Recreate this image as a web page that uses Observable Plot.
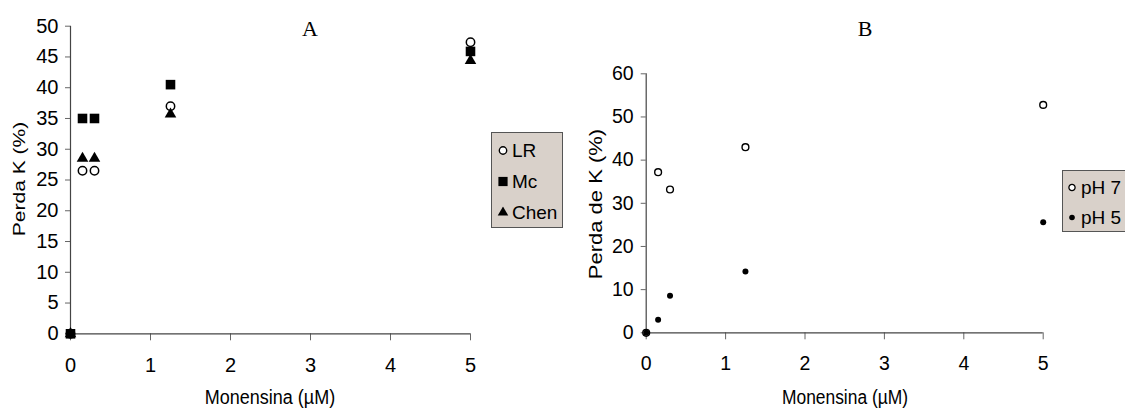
<!DOCTYPE html>
<html>
<head>
<meta charset="utf-8">
<script src="https://cdn.jsdelivr.net/npm/d3@7"></script>
<script src="https://cdn.jsdelivr.net/npm/@observablehq/plot@0.6"></script>
<style>
  html, body { margin: 0; padding: 0; background: white; }
  #wrap { position: relative; width: 1125px; height: 409px; overflow: hidden; font-family: "Liberation Sans", Arial, sans-serif; }
  #wrap > svg { position: absolute; top: 0; }
  #wrap svg text { fill: #000; }
  .ttl { position: absolute; white-space: nowrap; line-height: 1; color: #000; }
  .letter { position: absolute; font-family: "Liberation Serif", "Times New Roman", serif; font-size: 22px; line-height: 1; transform: translate(-50%, -50%); }
  .legend { position: absolute; background: #d9d1ca; border: 1px solid #555; box-sizing: border-box; }
  .legrow { position: absolute; display: flex; align-items: center; font-size: 19px; line-height: 1; white-space: nowrap; transform: translateY(-50%); color: #000; }
  .legrow svg { margin-right: 3px; }
</style>
</head>
<body>
<div id="wrap"></div>
<script>
// ---- Data ----
const monensinaA = [0, 0.15, 0.3, 1.25, 5];
const lrA   = [0, 26.5, 26.5, 37.0, 47.4];
const mcA   = [0, 35.0, 35.0, 40.5, 45.9];
const chenA = [0, 28.5, 28.5, 35.7, 44.4];
const seriesA = ["LR", "Mc", "Chen"];

const monensinaB = [0, 0.15, 0.3, 1.25, 5];
const ph7B = [0, 37.2, 33.2, 43.0, 52.8];
const ph5B = [0, 3.0, 8.6, 14.2, 25.6];
const seriesB = ["pH 7", "pH 5"];

const xTicks = [0, 1, 2, 3, 4, 5];
const yTicksA = [0, 5, 10, 15, 20, 25, 30, 35, 40, 45, 50];
const yTicksB = [0, 10, 20, 30, 40, 50, 60];

const toRows = (xs, ys) => xs.map((x, i) => ({x, y: ys[i]}));

const baseStyle = {fontFamily: "'Liberation Sans', Arial, sans-serif", fontSize: "20px", color: "black", background: "transparent", overflow: "visible"};
const axisColor = "#444";
const fmt = d3.format("d");

// ---- Panel A ----
const plotA = Plot.plot({
  width: 560, height: 409,
  marginLeft: 70, marginRight: 90, marginTop: 25.7, marginBottom: 75.7,
  x: {domain: [0, 5]},
  y: {domain: [0, 50]},
  style: baseStyle,
  marks: [
    Plot.axisY({ticks: yTicksA, tickFormat: fmt, tickSize: 5, tickPadding: 7, label: null, stroke: "#666", fill: "black"}),
    Plot.axisX({ticks: xTicks, tickFormat: fmt, tickSize: 7, tickPadding: 17, label: null, stroke: "#666", fill: "black"}),
    Plot.ruleX([0], {stroke: axisColor, strokeWidth: 1.2}),
    Plot.ruleY([0], {stroke: axisColor, strokeWidth: 1.2}),
    Plot.dot(toRows(monensinaA, lrA), {x: "x", y: "y", symbol: "circle", r: 4.2, fill: "white", stroke: "black", strokeWidth: 1.5}),
    Plot.dot(toRows(monensinaA, mcA), {x: "x", y: "y", symbol: "square", r: 5.4, fill: "black"}),
    Plot.dot(toRows(monensinaA, chenA), {x: "x", y: "y", symbol: "triangle", r: 4.3, fill: "black"})
  ]
});
plotA.style.left = "0px";

// ---- Panel B ----
const plotB = Plot.plot({
  width: 565, height: 409,
  marginLeft: 85.7, marginRight: 82.3, marginTop: 73.3, marginBottom: 76.7,
  x: {domain: [0, 5]},
  y: {domain: [0, 60]},
  style: {...baseStyle, fontSize: "19.5px"},
  marks: [
    Plot.axisY({ticks: yTicksB, tickFormat: fmt, tickSize: 5, tickPadding: 7.5, label: null, stroke: "#666", fill: "black"}),
    Plot.axisX({ticks: xTicks, tickFormat: fmt, tickSize: 7, tickPadding: 16, label: null, stroke: "#666", fill: "black"}),
    Plot.ruleX([0], {stroke: axisColor, strokeWidth: 1.2}),
    Plot.ruleY([0], {stroke: axisColor, strokeWidth: 1.2}),
    Plot.dot(toRows(monensinaB, ph7B), {x: "x", y: "y", symbol: "circle", r: 3.4, fill: "white", stroke: "black", strokeWidth: 1.4}),
    Plot.dot(toRows(monensinaB, ph5B), {x: "x", y: "y", symbol: "circle", r: 3, fill: "black"})
  ]
});
plotB.style.left = "560px";

const wrap = document.getElementById("wrap");
wrap.appendChild(plotA);
wrap.appendChild(plotB);

// ---- Titles ----
function addText(cls, text, left, top, css) {
  const d = document.createElement("div");
  d.className = cls;
  d.textContent = text;
  d.style.left = left + "px";
  d.style.top = top + "px";
  Object.assign(d.style, css || {});
  wrap.appendChild(d);
  return d;
}
addText("letter", "A", 310, 29);
addText("letter", "B", 865, 29);
addText("ttl", "Monensina (µM)", 270, 397, {fontSize: "20px", transform: "translate(-50%, -50%) scaleX(0.9)"});
addText("ttl", "Monensina (µM)", 845, 397, {fontSize: "20px", transform: "translate(-50%, -50%) scaleX(0.87)"});
addText("ttl", "Perda K (%)", 19, 179, {fontSize: "21px", transform: "translate(-50%, -50%) rotate(-90deg) scaleY(0.75)"});
addText("ttl", "Perda de K (%)", 595.5, 204, {fontSize: "22px", transform: "translate(-50%, -50%) rotate(-90deg) scaleY(0.82)"});

// ---- Legends ----
function symbolSvg(kind) {
  const ns = "http://www.w3.org/2000/svg";
  const s = document.createElementNS(ns, "svg");
  s.setAttribute("width", 12); s.setAttribute("height", 12);
  s.setAttribute("viewBox", "-6 -6 12 12");
  let el;
  if (kind === "openCircle") { el = document.createElementNS(ns, "circle"); el.setAttribute("r", 3.7); el.setAttribute("fill", "white"); el.setAttribute("stroke", "black"); el.setAttribute("stroke-width", 1.4); }
  else if (kind === "smallOpen") { el = document.createElementNS(ns, "circle"); el.setAttribute("r", 3.1); el.setAttribute("fill", "white"); el.setAttribute("stroke", "black"); el.setAttribute("stroke-width", 1.3); }
  else if (kind === "dot") { el = document.createElementNS(ns, "circle"); el.setAttribute("r", 2.8); el.setAttribute("fill", "black"); }
  else if (kind === "square") { el = document.createElementNS(ns, "rect"); el.setAttribute("x", -4.6); el.setAttribute("y", -4.6); el.setAttribute("width", 9.2); el.setAttribute("height", 9.2); el.setAttribute("fill", "black"); }
  else { el = document.createElementNS(ns, "path"); el.setAttribute("d", d3.symbol(d3.symbolTriangle, 48)()); el.setAttribute("fill", "black"); }
  s.appendChild(el);
  return s;
}
function legend(box, rows) {
  const b = document.createElement("div");
  b.className = "legend";
  Object.assign(b.style, {left: box.left + "px", top: box.top + "px", width: box.width + "px", height: box.height + "px"});
  wrap.appendChild(b);
  rows.forEach(r => {
    const row = document.createElement("div");
    row.className = "legrow";
    row.style.left = r.left + "px";
    row.style.top = r.top + "px";
    row.appendChild(symbolSvg(r.kind));
    const t = document.createElement("span");
    t.textContent = r.label;
    row.appendChild(t);
    wrap.appendChild(row);
  });
}
const kindsA = ["openCircle", "square", "triangle"];
legend({left: 491, top: 132, width: 72, height: 96},
  seriesA.map((s, i) => ({label: s, kind: kindsA[i], left: 497, top: [150, 181, 212][i]})));
const kindsB = ["smallOpen", "dot"];
legend({left: 1062, top: 170, width: 80, height: 62},
  seriesB.map((s, i) => ({label: s, kind: kindsB[i], left: 1066, top: [187, 217][i]})));
</script>
</body>
</html>
